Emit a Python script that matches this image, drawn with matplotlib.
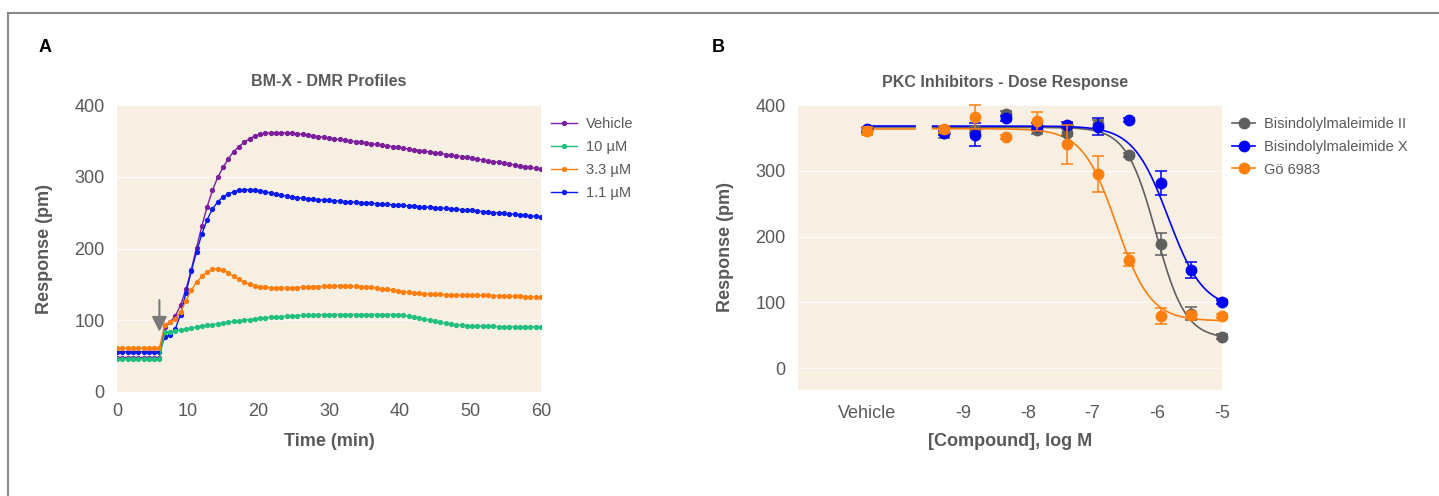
import numpy as np
import matplotlib
matplotlib.use("Agg")
import matplotlib.pyplot as plt
from matplotlib.lines import Line2D

plt.rcParams['font.family'] = ['Liberation Sans', 'DejaVu Sans']

# ---------------- Panel A data ----------------
TIME = [0, 0.75, 1.5, 2.25, 3, 3.75, 4.5, 5.25, 6, 6.75, 7.5, 8.25, 9, 9.75, 10.5, 11.25,
        12, 12.75, 13.5, 14.25, 15, 15.75, 16.5, 17.25, 18, 18.75, 19.5, 20.25, 21, 21.75,
        22.5, 23.25, 24, 24.75, 25.5, 26.25, 27, 27.75, 28.5, 29.25, 30, 30.75, 31.5, 32.25,
        33, 33.75, 34.5, 35.25, 36, 36.75, 37.5, 38.25, 39, 39.75, 40.5, 41.25, 42, 42.75,
        43.5, 44.25, 45, 45.75, 46.5, 47.25, 48, 48.75, 49.5, 50.25, 51, 51.75, 52.5, 53.25,
        54, 54.75, 55.5, 56.25, 57, 57.75, 58.5, 59.25, 60]

VEHICLE = [48, 48, 48, 48, 48, 48, 48, 48, 48, 90, 97, 106, 121, 143, 170, 201,
           231, 258, 281, 299, 313, 325, 335, 342, 348, 353, 357, 359, 360.5, 361,
           361.5, 361.5, 361, 361, 360, 359, 358, 357, 356, 355, 354, 353, 352, 351,
           350, 349, 348, 347, 346, 345, 344, 343, 342, 341, 340, 338.5, 337.5, 336.5,
           335.5, 334.5, 333.5, 332.5, 331, 330, 329, 328, 327, 325.5, 324.5, 323.5, 322, 321,
           320, 318.5, 317.5, 316.5, 315, 314, 313, 311.5, 310.5]

UM_1_1 = [56, 56, 56, 56, 56, 56, 56, 56, 56, 76, 80, 88, 108, 138, 168, 195,
          220, 240, 255, 265, 272, 276, 279, 281, 282, 282, 281.5, 280.5, 279, 277.5,
          276, 274.5, 273, 272, 271, 270, 269, 268.5, 268, 267.5, 267, 266.5, 266, 265.5,
          265, 264.5, 264, 263.5, 263, 262.5, 262, 261.5, 261, 260.5, 260, 259.5, 259, 258.5,
          258, 257.5, 257, 256.5, 256, 255.5, 255, 254, 253.5, 253, 252, 251.5, 251, 250,
          249.5, 249, 248, 247.5, 247, 246, 245.5, 245, 244]

UM_3_3 = [61, 61, 61, 61, 61, 61, 61, 61, 61, 94, 97, 102, 112, 127, 142, 153,
          161, 167, 171, 172, 170, 166, 161, 157, 153, 150, 148, 147, 146, 145,
          145, 145, 145, 145, 145.5, 146, 146.5, 147, 147, 147.5, 147.5, 148, 148, 148,
          148, 147.5, 147, 146.5, 146, 145, 144, 143, 142, 141, 140, 139, 138, 137.5,
          137, 136.5, 136, 136, 135.5, 135.5, 135, 135, 135, 135, 134.5, 134.5, 134.5, 134,
          134, 134, 133.5, 133.5, 133.5, 133, 133, 132.5, 132.5]

UM_10 = [46, 46, 46, 46, 46, 46, 46, 46, 46, 83, 84, 85, 86.5, 88, 89, 90.5,
         92, 93, 94, 95, 96, 97, 98.5, 99.5, 100, 101, 102, 102.5, 103.5, 104,
         104.5, 105, 105.5, 106, 106.5, 107, 107, 107.5, 107.5, 108, 108, 108, 108, 108,
         108, 108, 108, 108, 108, 108, 108, 108, 108, 107.5, 107, 106, 104.5, 103,
         101.5, 100, 98.5, 97, 95.5, 94.5, 93.5, 93, 92.5, 92, 92, 91.5, 91.5, 91.5,
         91, 91, 91, 91, 91, 91, 91, 91, 91]

A_LABELS = ["Vehicle", "10 \u00b5M", "3.3 \u00b5M", "1.1 \u00b5M"]
A_COLORS = ["#7b1f9c", "#22c07e", "#ff7f0e", "#0a1bef"]
A_SERIES = [VEHICLE, UM_10, UM_3_3, UM_1_1]

ARROW_T = 6
ARROW_FROM = 128
ARROW_TO = 84

# ---------------- Panel B data ----------------
LOGC = [-9.30, -8.82, -8.34, -7.86, -7.39, -6.91, -6.43, -5.95, -5.48, -5.00]
VEH_X = -10.49
B_XTICKS = [VEH_X, -9, -8, -7, -6, -5]
B_XTICKLABELS = ["Vehicle", "-9", "-8", "-7", "-6", "-5"]

BIS2_VEH, BIS2_VEH_ERR = 362, 4
BIS2 = [358, 362, 387, 362, 358, 371, 324, 189, 83, 48]
BIS2_ERR = [8, 4, 4, 6, 5, 6, 3, 17, 10, 4]

BISX_VEH, BISX_VEH_ERR = 363, 4
BISX = [357, 355, 380, 368, 370, 367, 377, 281, 149, 100]
BISX_ERR = [3, 18, 4, 4, 4, 13, 3, 18, 12, 3]

GO_VEH, GO_VEH_ERR = 361, 6
GO = [363, 382, 352, 375, 340, 295, 165, 80, 81, 80]
GO_ERR = [5, 18, 3, 15, 30, 27, 10, 12, 5, 3]

# 4-parameter logistic fit parameters: top, bottom, logIC50, hill
BIS2_FIT = [366, 45, -6.02, 1.9]
BISX_FIT = [368, 90, -5.83, 1.6]
GO_FIT = [364, 72, -6.63, 1.65]

B_LABELS = ["Bisindolylmaleimide II", "Bisindolylmaleimide X", "G\u00f6 6983"]
B_COLORS = ["#5f5f5f", "#0000f5", "#ff7f0e"]

VEH_SEG_END = -9.74
CURVE_START = -9.47

# ---------------- Styling ----------------
BG = "#f8efe3"
TXT = "#595959"

fig = plt.figure(figsize=(14.39, 4.96), dpi=100)

# border lines (top and left)
fig.add_artist(Line2D([8/1439, 1], [1-13/496, 1-13/496], color="#8a8a8a", lw=1.5,
                      transform=fig.transFigure))
fig.add_artist(Line2D([8/1439, 8/1439], [0, 1-13/496], color="#8a8a8a", lw=1.5,
                      transform=fig.transFigure))


def style_axes(ax):
    ax.set_facecolor(BG)
    for s in ax.spines.values():
        s.set_visible(False)
    ax.tick_params(length=0, labelsize=13, labelcolor=TXT)
    ax.set_yticks([0, 100, 200, 300, 400])
    ax.grid(axis='y', color='white', lw=0.9, alpha=0.8)
    ax.set_axisbelow(True)


# ---- Panel A ----
axA = fig.add_axes([117/1439, 1-392/496, 424/1439, 287/496])
style_axes(axA)
axA.set_xlim(0, 60)
axA.set_ylim(0, 400)
axA.set_xticks([0, 10, 20, 30, 40, 50, 60])
axA.tick_params(axis='x', pad=8)
axA.tick_params(axis='y', pad=9)
order = [0, 3, 2, 1]
for i in order:
    axA.plot(TIME, A_SERIES[i], color=A_COLORS[i], lw=1.0, marker='o', ms=2.8,
             mec=A_COLORS[i], label=A_LABELS[i], zorder=3)
axA.annotate("", xy=(ARROW_T, ARROW_TO), xytext=(ARROW_T, ARROW_FROM),
             arrowprops=dict(arrowstyle="-|>,head_width=0.45,head_length=0.9",
                             color="#7a7a7a", lw=1.5, shrinkA=0, shrinkB=0), zorder=5)
axA.set_ylabel("Response (pm)", fontsize=13, fontweight='bold', color=TXT)
axA.yaxis.set_label_coords(-0.17, 0.5)
axA.set_xlabel("Time (min)", fontsize=13, fontweight='bold', color=TXT)
axA.xaxis.set_label_coords(0.5, -0.172)
axA.xaxis.label.set_va('center')
axA.yaxis.label.set_va('center')

handlesA = [Line2D([], [], color=A_COLORS[i], lw=1.0, marker='o', ms=2.8) for i in range(4)]
legA = fig.legend(handlesA, A_LABELS, loc='upper left', bbox_to_anchor=(551/1439, 1-117/496),
                  frameon=False, fontsize=10.5, handlelength=1.8, handletextpad=0.6,
                  labelspacing=0.62, borderaxespad=0, borderpad=0)
for t in legA.get_texts():
    t.set_color(TXT)

fig.text(329/1439, 1-82/496, "BM-X - DMR Profiles", ha='center', va='center',
         fontsize=11.5, fontweight='bold', color=TXT)

# ---- Panel B ----
axB = fig.add_axes([798/1439, 1-390/496, 424/1439, 285/496])
style_axes(axB)
axB.set_xlim(-11.55, -5.0)
axB.set_ylim(-33, 400)
axB.set_xticks(B_XTICKS)
axB.set_xticklabels(B_XTICKLABELS)
axB.tick_params(axis='x', pad=11)
axB.tick_params(axis='y', pad=9)


def fourpl(x, p):
    top, bottom, c, h = p
    return bottom + (top - bottom) / (1 + 10 ** ((x - c) * h))


xx = np.linspace(CURVE_START, -5.0, 300)
sets = [
    (BIS2_VEH, BIS2_VEH_ERR, BIS2, BIS2_ERR, BIS2_FIT),
    (BISX_VEH, BISX_VEH_ERR, BISX, BISX_ERR, BISX_FIT),
    (GO_VEH, GO_VEH_ERR, GO, GO_ERR, GO_FIT),
]
for k, (vv, ve, yv, ye, fit) in enumerate(sets):
    col = B_COLORS[k]
    axB.plot([VEH_X, VEH_SEG_END], [fit[0], fit[0]], color=col, lw=1.2, zorder=3)
    axB.plot(xx, fourpl(xx, fit), color=col, lw=1.2, zorder=3)
    axB.errorbar([VEH_X] + LOGC, [vv] + yv, yerr=[ve] + ye, fmt='o', color=col,
                 ms=7.5, elinewidth=1.1, capsize=4, capthick=1.1, zorder=4 + k,
                 clip_on=False)

axB.set_ylabel("Response (pm)", fontsize=13, fontweight='bold', color=TXT)
axB.yaxis.set_label_coords(-0.172, 0.5)
axB.set_xlabel("[Compound], log M", fontsize=13, fontweight='bold', color=TXT)
axB.xaxis.set_label_coords(0.5, -0.18)
axB.xaxis.label.set_va('center')
axB.yaxis.label.set_va('center')

handlesB = [Line2D([], [], color=B_COLORS[i], lw=1.2, marker='o', ms=7.5) for i in range(3)]
legB = fig.legend(handlesB, B_LABELS, loc='upper left', bbox_to_anchor=(1232/1439, 1-117/496),
                  frameon=False, fontsize=10.5, handlelength=1.6, handletextpad=0.6,
                  labelspacing=0.6, borderaxespad=0, borderpad=0)
for t in legB.get_texts():
    t.set_color(TXT)

fig.text(1005/1439, 1-82/496, "PKC Inhibitors - Dose Response", ha='center', va='center',
         fontsize=11.5, fontweight='bold', color=TXT)

# panel letters
fig.text(45/1439, 1-47/496, "A", ha='center', va='center', fontsize=13, fontweight='bold',
         color='black')
fig.text(718/1439, 1-47/496, "B", ha='center', va='center', fontsize=13, fontweight='bold',
         color='black')

fig.savefig("out.png", dpi=100, facecolor='white')
